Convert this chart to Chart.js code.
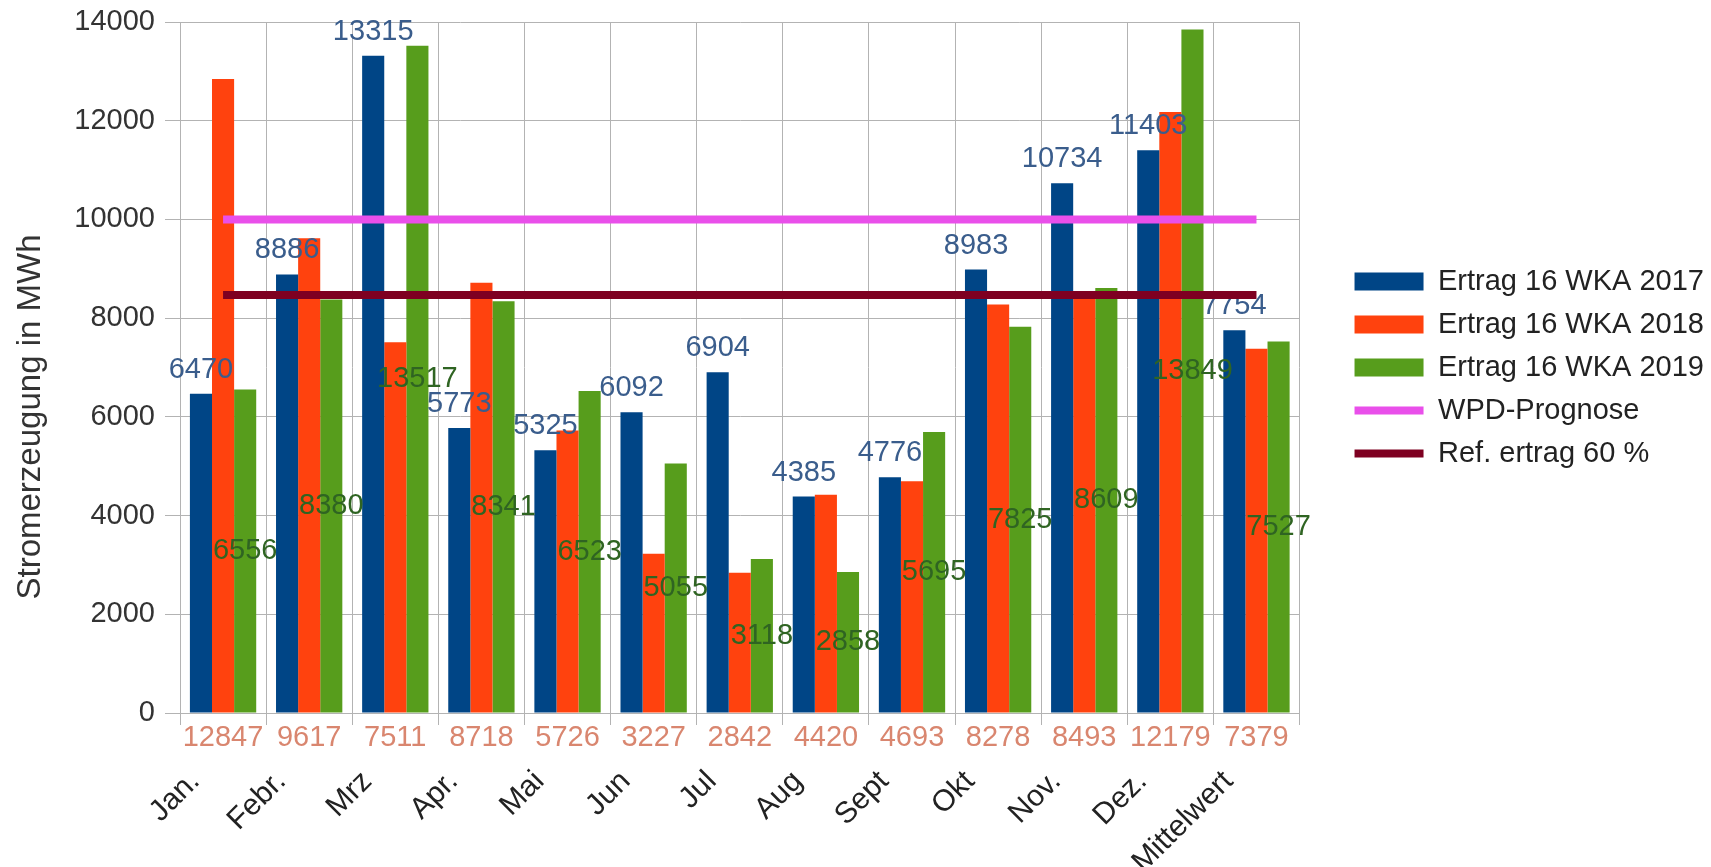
<!DOCTYPE html>
<html>
<head>
<meta charset="utf-8">
<script src="https://cdn.jsdelivr.net/npm/chart.js@4/dist/chart.umd.min.js"></script>
<style>
  body { margin: 0; background: #fff; }
  #wrap { width: 1711px; height: 867px; }
</style>
</head>
<body>
<div id="wrap"><canvas id="chart" width="1711" height="867"></canvas></div>
<script>
const months = ['Jan.', 'Febr.', 'Mrz', 'Apr.', 'Mai', 'Jun', 'Jul', 'Aug', 'Sept', 'Okt', 'Nov.', 'Dez.', 'Mittelwert'];
const ertrag2017 = [6470, 8886, 13315, 5773, 5325, 6092, 6904, 4385, 4776, 8983, 10734, 11403, 7754];
const ertrag2018 = [12847, 9617, 7511, 8718, 5726, 3227, 2842, 4420, 4693, 8278, 8493, 12179, 7379];
const ertrag2019 = [6556, 8380, 13517, 8341, 6523, 5055, 3118, 2858, 5695, 7825, 8609, 13849, 7527];
const wpdPrognose = months.map(() => 10000);
const refErtrag = months.map(() => 8470);
const yTicks = [0, 2000, 4000, 6000, 8000, 10000, 12000, 14000];

const FONT = 'Liberation Sans, Arial, sans-serif';
const LEGEND_GAP = 41;

// numbers above / inside / below the bars
const valueLabels = {
    id: 'valueLabels',
    afterDatasetDraw(chart, args) {
        // set 0 is the last bar set painted, so labels go over all bars but under the lines
        if (args.index !== 0) return;
        const ctx = chart.ctx;
        const area = chart.chartArea;
        ctx.save();
        ctx.font = '29px ' + FONT;
        ctx.textAlign = 'center';

        ctx.fillStyle = '#3a5d8c';
        ctx.textBaseline = 'alphabetic';
        chart.getDatasetMeta(0).data.forEach((bar, i) => {
            ctx.fillText(ertrag2017[i], bar.x, bar.y - 16);
        });

        ctx.fillStyle = '#d9866f';
        ctx.textBaseline = 'middle';
        chart.getDatasetMeta(1).data.forEach((bar, i) => {
            ctx.fillText(ertrag2018[i], bar.x, area.bottom + 25);
        });

        ctx.fillStyle = '#2f6422';
        chart.getDatasetMeta(2).data.forEach((bar, i) => {
            ctx.fillText(ertrag2019[i], bar.x, (bar.y + bar.base) / 2);
        });
        ctx.restore();
    }
};

const yTitle = {
    id: 'yTitle',
    afterDraw(chart) {
        const ctx = chart.ctx;
        ctx.save();
        ctx.translate(31, 417);
        ctx.rotate(-Math.PI / 2);
        ctx.font = '33px ' + FONT;
        ctx.fillStyle = '#333';
        ctx.textAlign = 'center';
        ctx.textBaseline = 'middle';
        ctx.fillText('Stromerzeugung in MWh', 0, 0);
        ctx.restore();
    }
};

// the right padding leaves room between plot and legend; move the legend into it
const legendShift = {
    id: 'legendShift',
    afterLayout(chart) {
        chart.legend.left += LEGEND_GAP;
        chart.legend.right += LEGEND_GAP;
    }
};

const ctx = document.getElementById('chart').getContext('2d');
new Chart(ctx, {
    type: 'bar',
    data: {
        labels: months,
        datasets: [
            { label: 'Ertrag 16 WKA 2017', data: ertrag2017, backgroundColor: '#004586', order: 1 },
            { label: 'Ertrag 16 WKA 2018', data: ertrag2018, backgroundColor: '#ff420e', order: 1 },
            { label: 'Ertrag 16 WKA 2019', data: ertrag2019, backgroundColor: '#579d1c', order: 1 },
            { type: 'line', label: 'WPD-Prognose', data: wpdPrognose, borderColor: '#e94fea', backgroundColor: '#e94fea',
              borderWidth: 8, pointRadius: 0, order: 0 },
            { type: 'line', label: 'Ref. ertrag 60 %', data: refErtrag, borderColor: '#7e0021', backgroundColor: '#7e0021',
              borderWidth: 8, pointRadius: 0, order: 0 }
        ]
    },
    options: {
        responsive: false,
        animation: false,
        devicePixelRatio: 1,
        layout: { padding: { top: 22, right: LEGEND_GAP - 3, bottom: 0, left: 0 } },
        datasets: { bar: { categoryPercentage: 0.77, barPercentage: 1.0 } },
        scales: {
            x: {
                grid: { color: '#b3b3b3', tickLength: 12, offset: true },
                border: { color: '#b3b3b3' },
                ticks: {
                    font: { family: FONT, size: 30 },
                    color: '#222',
                    maxRotation: 45,
                    minRotation: 45,
                    padding: 39,
                    labelOffset: -28,
                    autoSkip: false
                },
                afterFit(scale) { scale.height = 154; }
            },
            y: {
                min: 0,
                max: 14000,
                afterBuildTicks(scale) { scale.ticks = yTicks.map(v => ({ value: v })); },
                grid: { color: '#b3b3b3', tickLength: 15 },
                border: { color: '#b3b3b3' },
                ticks: {
                    font: { family: FONT, size: 29 },
                    color: '#333',
                    padding: 10,
                    callback: v => String(v)
                },
                afterFit(scale) {
                    scale.width = 180;
                    scale.paddingTop = 0;
                    scale.paddingBottom = 0;
                }
            }
        },
        plugins: {
            tooltip: { enabled: false },
            legend: {
                position: 'right',
                fullSize: false,
                labels: {
                    font: { family: FONT, size: 29 },
                    color: '#222',
                    usePointStyle: true,
                    pointStyleWidth: 69,
                    boxHeight: 18,
                    padding: 14,
                    generateLabels(chart) {
                        return chart.data.datasets.map((ds, i) => ({
                            text: ds.label,
                            datasetIndex: i,
                            fillStyle: ds.backgroundColor,
                            strokeStyle: ds.type === 'line' ? ds.borderColor : ds.backgroundColor,
                            lineWidth: ds.type === 'line' ? 8 : 0,
                            pointStyle: ds.type === 'line' ? 'line' : 'rect',
                            fontColor: '#222',
                            hidden: false
                        }));
                    }
                }
            }
        }
    },
    plugins: [valueLabels, yTitle, legendShift]
});
</script>
</body>
</html>
